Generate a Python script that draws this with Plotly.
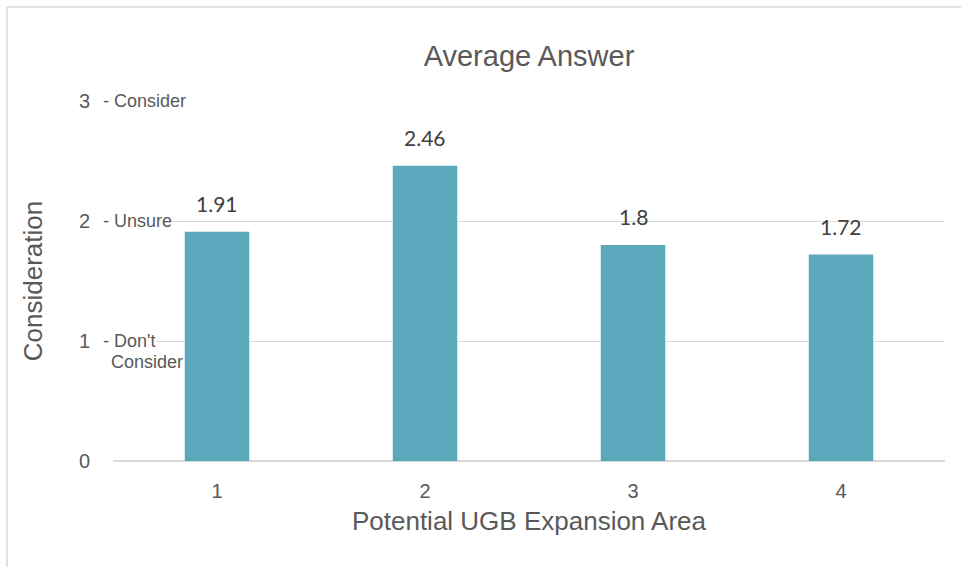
import plotly.graph_objects as go

areas = ['1', '2', '3', '4']
avg_answer = [1.91, 2.46, 1.8, 1.72]

tick_vals = [0, 1, 2, 3]
tick_nums = ['0', '1', '2', '3']
tick_desc = {3: '- Consider', 2: '- Unsure', 1: "- Don't"}

W, H = 961, 567
L, R, T, B = 113, 16, 101, 106
pw, ph = W - L - R, H - T - B


def px_x(x):
    return (x - L) / pw


def px_y(y):
    return (H - B - y) / ph


fig = go.Figure()

fig.add_trace(go.Bar(
    x=areas,
    y=avg_answer,
    marker=dict(color='#5BA8BD', line=dict(width=0)),
    showlegend=False
))

# value labels above bars (category index used as x)
for i, v in enumerate(avg_answer):
    fig.add_annotation(
        x=i, y=v, text=str(v), showarrow=False,
        yanchor='bottom', yshift=14,
        font=dict(family='Lato', size=21, color='#404040')
    )

# descriptive parts of the y tick labels
for v, txt in tick_desc.items():
    fig.add_annotation(
        xref='paper', yref='y', x=px_x(102), y=v, text=txt,
        showarrow=False, xanchor='left', yanchor='middle',
        bgcolor='white', borderpad=0,
        font=dict(family='Liberation Sans', size=18, color='#595959')
    )
fig.add_annotation(
    xref='paper', yref='y', x=px_x(109), y=1, yshift=-21, text='Consider',
    showarrow=False, xanchor='left', yanchor='middle',
    font=dict(family='Liberation Sans', size=18, color='#595959')
)

# outer chart border (top and left edges visible)
fig.add_shape(type='line', xref='paper', yref='paper',
              x0=px_x(7), x1=px_x(W + 5), y0=px_y(7), y1=px_y(7),
              line=dict(color='#D9D9D9', width=1.5))
fig.add_shape(type='line', xref='paper', yref='paper',
              x0=px_x(7), x1=px_x(7), y0=px_y(7), y1=px_y(H + 5),
              line=dict(color='#D9D9D9', width=1.5))

fig.update_layout(
    width=W, height=H,
    margin=dict(l=L, r=R, t=T, b=B),
    paper_bgcolor='white', plot_bgcolor='white',
    bargap=0.69,
    title=dict(
        text='Average Answer', x=0.5, xref='paper', xanchor='center',
        y=1 - 56 / H, yref='container', yanchor='middle',
        font=dict(family='Liberation Sans', size=29, color='#595959')
    ),
    xaxis=dict(
        type='category', range=[-0.5, 3.5],
        title=dict(text='Potential UGB Expansion Area', standoff=10,
                   font=dict(family='Liberation Sans', size=26, color='#595959')),
        tickfont=dict(family='Liberation Sans', size=20, color='#595959'),
        showgrid=False, showline=False, zeroline=False,
        ticklabelstandoff=16
    ),
    yaxis=dict(
        title=dict(text='Consideration', standoff=28,
                   font=dict(family='Liberation Sans', size=26, color='#595959')),
        range=[0, 3],
        tickvals=tick_vals, ticktext=tick_nums,
        tickfont=dict(family='Liberation Sans', size=20, color='#595959'),
        showgrid=True, gridcolor='#D9D9D9', gridwidth=1,
        zeroline=True, zerolinecolor='#D9D9D9', zerolinewidth=1.5,
        showline=False, ticklabelstandoff=22
    )
)

fig.write_html('out.html', config={'displayModeBar': False},
               post_script="document.body.style.margin='0';document.body.style.overflow='hidden';")
